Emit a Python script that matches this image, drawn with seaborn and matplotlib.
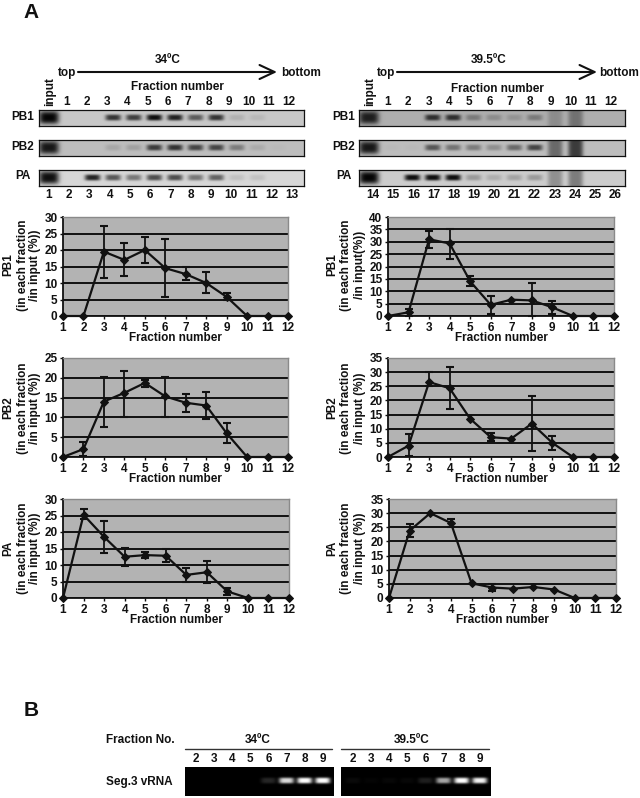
import numpy as np
import pandas as pd
import matplotlib
matplotlib.use("Agg")
import matplotlib.pyplot as plt
import seaborn as sns

sns.set_theme(style="white")
plt.rcParams["font.family"] = ["Liberation Sans", "DejaVu Sans"]
plt.rcParams["font.weight"] = "bold"

fractions = list(range(1, 13))
nan = float("nan")

# line chart data: mean, upper and lower ends of error bars
l_pb1 = [0, 0, 19.5, 17, 20, 14.5, 12.7, 10, 5.8, 0, 0, 0]
l_pb1_hi = [nan, nan, 27.2, 22, 24, 23.2, 14.7, 13.4, 7, nan, nan, nan]
l_pb1_lo = [nan, nan, 11.6, 12.2, 16, 5.8, 10.8, 7, 5, nan, nan, nan]
l_pb2 = [0, 2, 14, 16.2, 18.7, 15.3, 13.7, 13, 6, 0, 0, 0]
l_pb2_hi = [nan, 3.8, 20.3, 21.8, 19.5, 20.3, 16, 16.5, 8.5, nan, nan, nan]
l_pb2_lo = [nan, 0.2, 7.7, 10.2, 17.8, 10.2, 11.3, 9.5, 3.5, nan, nan, nan]
l_pa = [0, 25.2, 18.5, 12.5, 13, 12.8, 7, 7.8, 2, 0, 0, 0]
l_pa_hi = [nan, 27, 23.3, 15.2, 13.8, 14.8, 9, 11.2, 3, nan, nan, nan]
l_pa_lo = [nan, 24, 13.7, 9.8, 12.2, 10.8, 5, 4.4, 1, nan, nan, nan]
r_pb1 = [0, 1.5, 31, 29.3, 14, 4.5, 6.6, 6.3, 3.5, 0, 0, 0]
r_pb1_hi = [nan, 3, 34.3, 35.3, 16, 8.2, nan, 13.2, 6.2, nan, nan, nan]
r_pb1_lo = [nan, 0, 27.5, 23, 12.2, 1, nan, 0, 0.8, nan, nan, nan]
r_pb2 = [0, 4, 26.5, 24.3, 13.5, 7, 6.5, 11.8, 5, 0, 0, 0]
r_pb2_hi = [nan, 8, 30, 31.8, nan, 8.5, nan, 21.5, 7.5, nan, nan, nan]
r_pb2_lo = [nan, 0.5, 25, 17, nan, 5.5, nan, 2, 2.5, nan, nan, nan]
r_pa = [0, 23.8, 30, 26.5, 5.2, 3.7, 3.3, 3.9, 3, 0, 0, 0]
r_pa_hi = [nan, 26, nan, 28, nan, 5, nan, nan, nan, nan, nan, nan]
r_pa_lo = [nan, 21.5, nan, 25, nan, 2.5, nan, nan, nan, nan, nan, nan]

# blot band darkness: input lane, then fractions 1-12
blot_l_pb1 = [1.0, 0, 0, .75, .7, .95, .85, .55, .75, .12, .08, 0, 0]
blot_l_pb2 = [.9, 0, 0, .12, .15, .7, .75, .65, .65, .35, .1, .02, 0]
blot_l_pa = [.95, 0, .85, .6, .45, .65, .65, .45, .55, .1, .1, 0, 0]
blot_r_pb1 = [.85, 0, 0, .75, .75, .3, .2, .15, .3, 0, 0, 0, 0]
blot_r_pb2 = [.9, .02, .02, .55, .4, .35, .25, .45, .65, 0, 0, 0, 0]
blot_r_pa = [1.0, 0, .95, .95, .95, .25, .15, .2, .25, 0, 0, 0, 0]
# smears over lanes 9 and 10 on the right-hand blots
smear_r_pb1 = [.2, .35]
smear_r_pb2 = [.45, .7]
smear_r_pa = [.3, .4]
# RT-PCR band brightness, fractions 2-9
gel_fractions = list(range(2, 10))
gel_34 = [0, 0, 0, 0, .15, .85, 1, 1]
gel_39 = [.04, .02, .03, .03, .12, .65, 1, .95]

W, H = 640, 798
fig = plt.figure(figsize=(W / 100, H / 100), dpi=100, facecolor="white")


def axes_px(x0, y0, x1, y1):
    return fig.add_axes([x0 / W, 1 - y1 / H, (x1 - x0) / W, (y1 - y0) / H])


page = axes_px(0, 0, W, H)
page.set_xlim(0, W)
page.set_ylim(H, 0)
page.axis("off")
page.set_zorder(5)
page.patch.set_alpha(0)


def T(x, y, s, size=8, ha="center", rot=0, **kw):
    page.text(x, y, s, fontsize=size, ha=ha, va="center", rotation=rot,
              color="#111111", fontweight="bold", linespacing=1.15, **kw)


def line_chart(box, values, hi, lo, ymax, step, ylab, ycenter, xlab):
    ax = axes_px(*box)
    ax.set_facecolor("#b3b3b3")
    df = pd.DataFrame({"fraction": fractions, "value": values})
    ax.errorbar(fractions, values,
                yerr=[np.array(values) - np.array(lo), np.array(hi) - np.array(values)],
                fmt="none", ecolor="#111111", elinewidth=1.3, capsize=3, capthick=1.5,
                zorder=3, clip_on=False)
    sns.lineplot(data=df, x="fraction", y="value", ax=ax, color="#111111", lw=1.6,
                 marker="D", ms=4, mec="#111111", errorbar=None, zorder=4, clip_on=False)
    ax.set_xlim(1, 12)
    ax.set_ylim(0, ymax)
    ax.set_xticks(fractions)
    ax.set_yticks(np.arange(0, ymax + 1, step))
    ax.grid(axis="y", color="#111111", lw=1.4)
    ax.set_axisbelow(True)
    ax.tick_params(axis="both", length=2.5, width=1, color="#111111", labelsize=8.5,
                   labelcolor="#111111", pad=1.5, left=True, bottom=True)
    ax.set_xlabel("Fraction number", fontsize=8.5, fontweight="bold", labelpad=-1, color="#111111")
    ax.set_ylabel("")
    for s in ("top", "right"):
        ax.spines[s].set_color("#8a8a8a")
        ax.spines[s].set_linewidth(1)
    for s in ("left", "bottom"):
        ax.spines[s].set_color("#111111")
        ax.spines[s].set_linewidth(1.3)
    for lab in ax.get_xticklabels() + ax.get_yticklabels():
        lab.set_fontweight("bold")
    x1, x2, x3 = xlab
    T(x1, ycenter, ylab[0], 8.5, rot=90)
    T(x2, ycenter, ylab[1], 8.5, rot=90)
    T(x3, ycenter, ylab[2], 8.5, rot=90)


lx = (8, 23, 35)
rx = (332, 346, 360)
line_chart((63, 217, 288, 316), l_pb1, l_pb1_hi, l_pb1_lo, 30, 5,
           ("PB1", "(in each fraction", "/in input (%))"), 265, lx)
line_chart((63, 358, 288, 457), l_pb2, l_pb2_hi, l_pb2_lo, 25, 5,
           ("PB2", "(in each fraction", "/in input (%))"), 408, lx)
line_chart((63, 499, 289, 598), l_pa, l_pa_hi, l_pa_lo, 30, 5,
           ("PA", "(in each fraction", "/in input (%))"), 548, lx)
line_chart((388, 217, 614, 316), r_pb1, r_pb1_hi, r_pb1_lo, 40, 5,
           ("PB1", "(in each fraction", "/in input(%))"), 265, rx)
line_chart((388, 358, 614, 457), r_pb2, r_pb2_hi, r_pb2_lo, 35, 5,
           ("PB2", "(in each fraction", "/in input (%))"), 408, rx)
line_chart((389, 499, 616, 598), r_pa, r_pa_hi, r_pa_lo, 35, 5,
           ("PA", "(in each fraction", "/in input (%))"), 548, rx)


def blot(box, bands, input_x, lane1_x, spacing, bg, smear=None):
    x0, y0, x1, y1 = box
    xs = np.arange(x0, x1) + 0.5
    ys = np.arange(y0, y1) + 0.5
    X, Y = np.meshgrid(xs, ys)
    yc = (y0 + y1) / 2 - 0.5
    dark = np.zeros_like(X)
    for i, d in enumerate(bands):
        cx = input_x if i == 0 else lane1_x + (i - 1) * spacing
        sx, sy = (10, 6.5) if i == 0 else (7.8, 3.1)
        dark += d * np.exp(-np.abs((X - cx) / sx) ** 4) * np.exp(-np.abs((Y - yc) / sy) ** 3)
    if smear:
        for j, d in enumerate(smear):
            cx = lane1_x + (8 + j) * spacing
            dark += d * np.exp(-np.abs((X - cx) / 7.5) ** 4)
    img = bg * (1 - np.clip(dark, 0, 1) * 0.98)
    ax = axes_px(*box)
    ax.imshow(img, cmap="gray", vmin=0, vmax=1, aspect="auto", interpolation="bilinear")
    ax.set_xticks([])
    ax.set_yticks([])
    for s in ax.spines.values():
        s.set_color("#111111")
        s.set_linewidth(0.9)
        s.set_visible(True)


blot((39, 110, 304, 126), blot_l_pb1, 49, 72, 20.6, .78)
blot((39, 140, 304, 156), blot_l_pb2, 49, 72, 20.6, .74)
blot((39, 170, 304, 186), blot_l_pa, 49, 72, 20.6, .84)
blot((359, 110, 625, 126), blot_r_pb1, 369, 392, 20.4, .68, smear_r_pb1)
blot((359, 140, 625, 156), blot_r_pb2, 369, 392, 20.4, .74, smear_r_pb2)
blot((359, 170, 625, 186), blot_r_pa, 369, 392, 20.4, .80, smear_r_pa)


def gel(box, bands, first_x, spacing):
    x0, y0, x1, y1 = box
    X, Y = np.meshgrid(np.arange(x0, x1) + 0.5, np.arange(y0, y1) + 0.5)
    yc = (y0 + y1) / 2 - 1
    img = np.zeros_like(X)
    for i, b in enumerate(bands):
        cx = first_x + i * spacing
        img += b * np.exp(-np.abs((X - cx) / 7.5) ** 4) * np.exp(-np.abs((Y - yc) / 3) ** 3)
    ax = axes_px(*box)
    ax.imshow(np.clip(img, 0, 1), cmap="gray", vmin=0, vmax=1, aspect="auto", interpolation="bilinear")
    ax.axis("off")


gel((185, 767, 334, 796), gel_34, 196, 18.1)
gel((341, 767, 491, 796), gel_39, 353, 18.1)

# Panel letters
T(31, 12, "A", 15)
T(31, 711, "B", 15)

# Headers over the blots
T(168, 60, "34ºC", 8.5)
T(489, 60, "39.5ºC", 8.5)
T(67, 73, "top", 8.5)
T(386, 73, "top", 8.5)
T(301, 73, "bottom", 8.5)
T(619, 73, "bottom", 8.5)
T(177, 87, "Fraction number", 8.5)
T(497, 89, "Fraction number", 8.5)
T(50, 92, "input", 8.5, rot=90)
T(370, 92, "input", 8.5, rot=90)
for x0, x1 in ((78, 277), (397, 597)):
    page.annotate("", xy=(x1, 72), xytext=(x0, 72),
                  arrowprops=dict(arrowstyle="->,head_length=0.9,head_width=0.42",
                                  lw=1.5, color="#111111", shrinkA=0, shrinkB=0))

# Lane numbers
top_labels = [str(n) for n in fractions]
for i, s in enumerate(top_labels):
    T(67 + i * 20.2, 102, s, 8.5)
    T(388 + i * 20.3, 102, s, 8.5)
for i, n in enumerate(range(1, 14)):
    T(49 + i * 20.25, 195, str(n), 8.5)
for i, n in enumerate(range(14, 27)):
    T(373 + i * 20.2, 195, str(n), 8.5)
for y, s in ((117, "PB1"), (147, "PB2"), (176, "PA")):
    T(23, y, s, 8.5)
    T(344, y, s, 8.5)

# Panel B text
T(106, 740, "Fraction No.", 8.5, ha="left")
T(106, 782, "Seg.3 vRNA", 8.5, ha="left")
T(258, 740, "34ºC", 8.5)
T(412, 740, "39.5ºC", 8.5)
page.plot([185, 332], [749, 749], color="#333333", lw=1)
page.plot([341, 489], [749, 749], color="#333333", lw=1)
for i, n in enumerate(gel_fractions):
    T(196 + i * 18.1, 759, str(n), 8.5)
    T(353 + i * 18.1, 759, str(n), 8.5)

fig.savefig("out.png", dpi=100)
